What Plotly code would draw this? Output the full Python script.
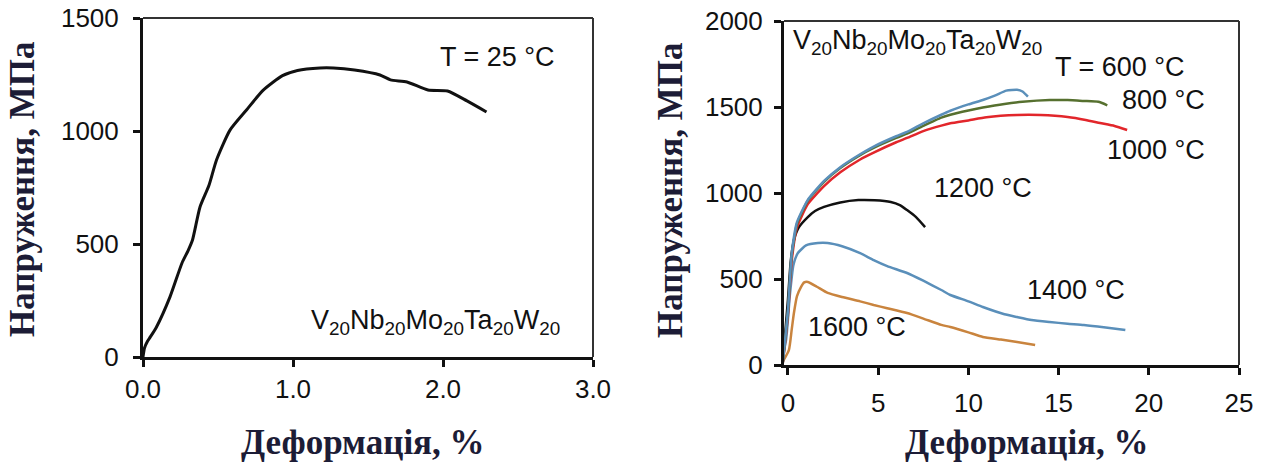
import plotly.graph_objects as go

W, H = 1272, 462

# ---- Left panel: room temperature (25 °C) ----
strain_25 = [0.0, 0.01, 0.03, 0.05, 0.09, 0.18, 0.26, 0.30, 0.33, 0.38, 0.44, 0.49, 0.58,
             0.69, 0.80, 0.93, 1.03, 1.18, 1.27, 1.41, 1.58, 1.65, 1.76, 1.90, 2.03, 2.16, 2.29]
stress_25 = [0, 40, 70, 90, 133, 266, 416, 470, 518, 664, 760, 872, 1004,
             1093, 1180, 1245, 1268, 1279, 1279, 1270, 1248, 1226, 1217, 1181, 1177, 1133, 1084]

# ---- Right panel: elevated temperatures ----
strain_600 = [-0.3, 0.0, 0.2, 0.5, 1.1, 2.0, 2.9, 4.0, 4.75, 6.0, 6.6, 7.5, 8.5, 9.0,
              10.0, 10.8, 11.5, 12.1, 12.7, 13.0, 13.3]
stress_600 = [0, 320, 640, 830, 960, 1070, 1150, 1225, 1270, 1330, 1355, 1405, 1455, 1478,
              1515, 1541, 1568, 1595, 1600, 1590, 1560]

strain_800 = [-0.3, 0.0, 0.2, 0.5, 1.1, 2.0, 2.9, 4.0, 4.75, 6.0, 6.6, 7.5, 8.5, 9.0,
              10.0, 10.8, 12.0, 13.0, 14.5, 15.5, 16.4, 17.2, 17.7]
stress_800 = [0, 310, 630, 820, 955, 1065, 1145, 1220, 1262, 1320, 1345, 1390, 1438, 1455,
              1480, 1497, 1518, 1530, 1540, 1540, 1535, 1530, 1510]

strain_1000 = [-0.3, 0.0, 0.2, 0.5, 1.1, 2.0, 2.9, 4.0, 4.75, 6.0, 6.6, 7.5, 8.5, 9.0,
               10.0, 11.0, 12.7, 14.0, 15.5, 16.5, 17.3, 18.1, 18.8]
stress_1000 = [0, 290, 600, 800, 935, 1040, 1120, 1195, 1235, 1295, 1320, 1360, 1392, 1405,
               1422, 1440, 1453, 1453, 1442, 1425, 1407, 1390, 1366]

strain_1200 = [-0.3, 0.0, 0.15, 0.33, 0.6, 1.1, 1.5, 2.0, 2.9, 3.9, 4.8, 5.7, 6.2, 6.6, 7.1, 7.6]
stress_1200 = [0, 380, 600, 727, 800, 860, 895, 919, 945, 959, 958, 948, 930, 901, 860, 802]

strain_1400 = [-0.4, -0.1, 0.1, 0.3, 0.55, 1.0, 1.66, 2.2, 3.0, 4.0, 4.75, 5.5, 6.6, 7.5,
               8.5, 9.0, 10.0, 10.8, 12.0, 12.7, 13.5, 14.5, 15.5, 16.4, 17.5, 18.7]
stress_1400 = [0, 150, 400, 580, 651, 695, 709, 709, 690, 650, 610, 575, 535, 490,
               436, 407, 370, 337, 295, 279, 262, 250, 240, 233, 220, 203]

strain_1600 = [-0.4, 0.05, 0.2, 0.33, 0.5, 0.72, 0.9, 1.1, 1.6, 2.2, 3.0, 4.0, 4.75, 5.5,
               6.6, 7.5, 8.5, 9.0, 10.0, 10.8, 11.8, 12.7, 13.7]
stress_1600 = [0, 87, 200, 302, 400, 453, 480, 483, 455, 419, 395, 370, 349, 330,
               302, 270, 233, 221, 190, 163, 148, 134, 116]

left_xticks = [0, 1, 2, 3]
left_xticklabels = ["0.0", "1.0", "2.0", "3.0"]
left_yticks = [0, 500, 1000, 1500]
right_xticks = [0, 5, 10, 15, 20, 25]
right_yticks = [0, 500, 1000, 1500, 2000]

BLUE = "#5a8fba"
GREEN = "#56702f"
RED = "#e2262b"
ORANGE = "#c9843e"
BLACK = "#111111"
TITLE_COLOR = "#1c1c36"


def px_x(p):
    return p / W


def px_y(p):
    return 1 - p / H


fig = go.Figure()

fig.add_trace(go.Scatter(x=strain_25, y=stress_25, mode="lines",
                         line=dict(color=BLACK, width=3, shape="spline", smoothing=0.6),
                         xaxis="x", yaxis="y"))

right_series = [
    (strain_1600, stress_1600, ORANGE),
    (strain_1400, stress_1400, BLUE),
    (strain_1200, stress_1200, BLACK),
    (strain_1000, stress_1000, RED),
    (strain_800, stress_800, GREEN),
    (strain_600, stress_600, BLUE),
]
for sx, sy, col in right_series:
    fig.add_trace(go.Scatter(x=sx, y=sy, mode="lines",
                             line=dict(color=col, width=2.5, shape="spline", smoothing=0.5),
                             xaxis="x2", yaxis="y2"))

tick_font = dict(family="Liberation Sans, Arial", size=26, color="#111111")
axis_common = dict(showgrid=False, zeroline=False, showline=True, linecolor="#111111",
                   linewidth=3, ticks="outside", ticklen=7, tickwidth=2.5,
                   tickcolor="#111111", tickfont=tick_font, fixedrange=True,
                   automargin=False)

L_x0, L_x1, L_y0, L_y1 = 143, 593, 18, 357
R_x0, R_x1, R_y0, R_y1 = 784, 1239, 21, 365

fig.update_layout(
    width=W, height=H,
    margin=dict(l=0, r=0, t=0, b=0),
    paper_bgcolor="white", plot_bgcolor="white",
    showlegend=False,
    xaxis=dict(domain=[px_x(L_x0), px_x(L_x1)], range=[0, 3], tickvals=left_xticks,
               ticktext=left_xticklabels, anchor="y", **axis_common),
    yaxis=dict(domain=[px_y(L_y1), px_y(L_y0)], range=[0, 1500], tickvals=left_yticks,
               anchor="x", ticklabelstandoff=9, **axis_common),
    xaxis2=dict(domain=[px_x(R_x0), px_x(R_x1)], range=[-0.22, 25], tickvals=right_xticks,
                anchor="y2", ticklabelstandoff=6, **axis_common),
    yaxis2=dict(domain=[px_y(R_y1), px_y(R_y0)], range=[0, 2000], tickvals=right_yticks,
                anchor="x2", ticklabelstandoff=6, **axis_common),
)

# Top and right frame edges of both panels
for x0, x1, y0, y1 in [(L_x0, L_x1, L_y0, L_y1), (R_x0, R_x1, R_y0, R_y1)]:
    fig.add_shape(type="line", xref="paper", yref="paper",
                  x0=px_x(x0), x1=px_x(x1), y0=px_y(y0), y1=px_y(y0),
                  line=dict(color="#333333", width=2))
    fig.add_shape(type="line", xref="paper", yref="paper",
                  x0=px_x(x1), x1=px_x(x1), y0=px_y(y0), y1=px_y(y1),
                  line=dict(color="#333333", width=2))

title_font = dict(family="Liberation Serif, Times New Roman", size=35, color=TITLE_COLOR)
label_font = dict(family="Liberation Sans, Arial", size=27, color="#111111")


def note(text, cx, cy, font, angle=0):
    fig.add_annotation(text=text, xref="paper", yref="paper", x=px_x(cx), y=px_y(cy),
                       xanchor="center", yanchor="middle", showarrow=False,
                       font=font, textangle=angle)


# Axis titles
note("<b>Деформація, %</b>", 363, 442, title_font)
note("<b>Деформація, %</b>", 1027, 442, title_font)
note("<b>Напруження, МПа</b>", 23, 190, title_font, -90)
note("<b>Напруження, МПа</b>", 670, 191, title_font, -90)

alloy = "V<sub>20</sub>Nb<sub>20</sub>Mo<sub>20</sub>Ta<sub>20</sub>W<sub>20</sub>"

# Left panel labels
note("T = 25 °C", 497, 57, label_font)
note(alloy, 435, 322, label_font)

# Right panel labels
note(alloy, 917, 42, label_font)
note("T = 600 °C", 1120, 67, label_font)
note("800 °C", 1163, 100, label_font)
note("1000 °C", 1156, 150, label_font)
note("1200 °C", 983, 188, label_font)
note("1400 °C", 1076, 290, label_font)
note("1600 °C", 857, 327, label_font)

fig.write_html("out.html")
